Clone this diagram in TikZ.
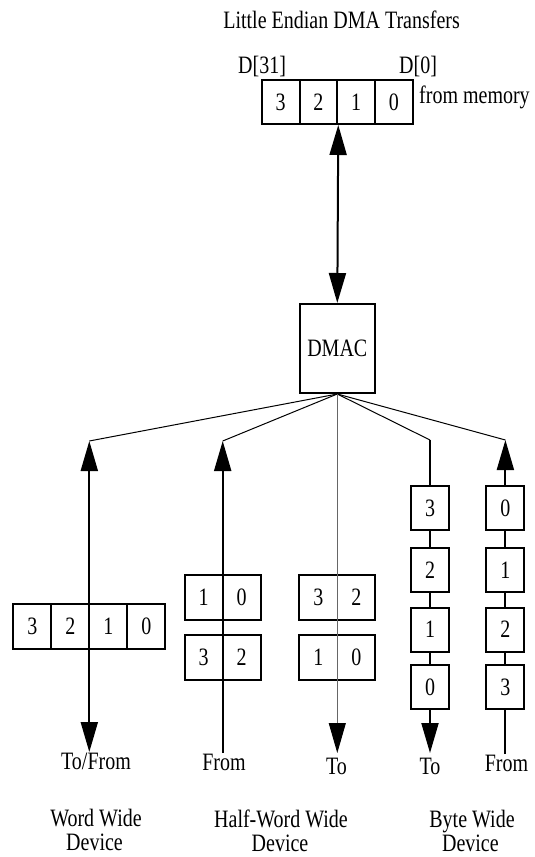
\documentclass[tikz,border=0pt]{standalone}
\usepackage{fontspec}
\usepackage{graphicx}
\setmainfont{Liberation Serif}
\usetikzlibrary{arrows.meta}
\newcommand{\vstr}[1]{\scalebox{1}[1.25]{#1}}
\begin{document}
\begin{tikzpicture}[x=1pt,y=-1pt,
  >={Triangle[length=30pt,width=17pt]},
  txt/.style={font=\fontsize{20}{24}\selectfont, inner sep=0pt},
  lbl/.style={txt, anchor=base},
  cell/.style={txt, draw, line width=2pt, minimum width=38pt, minimum height=44pt, fill=white},
  hbox/.style={draw, line width=2pt, minimum width=76pt, minimum height=45pt, inner sep=0pt, fill=white},
  wire/.style={line width=2pt},
  fan/.style={line width=1pt},
  grayline/.style={line width=1pt, draw=black!60},
  graytip/.style={-{Triangle[length=30pt,width=17pt,color=black]}}
]
\useasboundingbox (0,0) rectangle (535,857);

% title and memory word
\node[lbl, anchor=base east] (title) at (460,28) {\vstr{Little Endian DMA Transfers}};
\node[lbl, anchor=base west] (d31) at (238,73) {\vstr{D[31]}};
\node[lbl, anchor=base west] (d0) at (399,73) {\vstr{D[0]}};
\node[cell, minimum width=37.75pt] (m3) at (280.7,102) {\vstr{3}};
\node[cell, minimum width=37.75pt] (m2) at (318.4,102) {\vstr{2}};
\node[cell, minimum width=37.75pt] (m1) at (356.2,102) {\vstr{1}};
\node[cell, minimum width=37.75pt] (m0) at (393.9,102) {\vstr{0}};
\node[lbl, anchor=base west] (frommem) at (419,103.5) {\vstr{from memory}};

% DMAC
\node[txt, draw, line width=2pt, minimum width=75pt, minimum height=89pt] (dmac) at (337.3,348.5) {\vstr{DMAC}};
\draw[wire,<->] (m2.south east) -- (dmac.north);

% fan
\coordinate (f1) at (89.3,441);
\coordinate (f2) at (222.7,441);
\coordinate (f4) at (430,440);
\coordinate (f5) at (505.4,440);
\draw[fan] (dmac.south) -- (f1);
\draw[fan] (dmac.south) -- (f2);
\draw[fan] (dmac.south) -- (f4);
\draw[fan] (dmac.south) -- (f5);

% word wide device
\node[cell, minimum height=45pt] (w3) at (32.3,626) {\vstr{3}};
\node[cell, minimum height=45pt] (w2) at (70.3,626) {\vstr{2}};
\node[cell, minimum height=45pt] (w1) at (108.3,626) {\vstr{1}};
\node[cell, minimum height=45pt] (w0) at (146.3,626) {\vstr{0}};
\coordinate (t1) at (89.3,752);
\draw[wire,<->] (f1) -- (t1);

% half-word, from
\node[cell, minimum height=45pt] (ha1) at (203.7,597.3) {\vstr{1}};
\node[cell, minimum height=45pt] (ha0) at (241.7,597.3) {\vstr{0}};
\node[cell, minimum height=45pt] (hb3) at (203.7,657.3) {\vstr{3}};
\node[cell, minimum height=45pt] (hb2) at (241.7,657.3) {\vstr{2}};
\coordinate (s2) at (222.7,753);
\draw[wire,->] (s2) -- (f2);

% half-word, to
\node[hbox] (hc) at (337.3,597.3) {};
\node[txt] (hc3) at (318.3,597.3) {\vstr{3}};
\node[txt] (hc2) at (356.3,597.3) {\vstr{2}};
\node[hbox] (hd) at (337.3,657.3) {};
\node[txt] (hd1) at (318.3,657.3) {\vstr{1}};
\node[txt] (hd0) at (356.3,657.3) {\vstr{0}};
\coordinate (t3) at (337.3,753);
\draw[grayline,graytip] (dmac.south) -- (t3);

% byte, to
\node[cell] (b4a) at (430,508) {\vstr{3}};
\node[cell] (b4b) at (430,570) {\vstr{2}};
\node[cell] (b4c) at (430,629.5) {\vstr{1}};
\node[cell] (b4d) at (430,687) {\vstr{0}};
\coordinate (t4) at (430,753);
\draw[wire] (f4) -- (b4a);
\draw[wire] (b4a) -- (b4b);
\draw[wire] (b4b) -- (b4c);
\draw[wire] (b4c) -- (b4d);
\draw[wire,->] (b4d) -- (t4);

% byte, from
\node[cell] (b5a) at (505.4,508) {\vstr{0}};
\node[cell] (b5b) at (505.4,570) {\vstr{1}};
\node[cell] (b5c) at (505.4,629.5) {\vstr{2}};
\node[cell] (b5d) at (505.4,687) {\vstr{3}};
\coordinate (s5) at (505.4,754);
\draw[wire,->] (b5a) -- (f5);
\draw[wire] (b5a) -- (b5b);
\draw[wire] (b5b) -- (b5c);
\draw[wire] (b5c) -- (b5d);
\draw[wire] (s5) -- (b5d);

% direction labels
\node[lbl] (l1) at (96,769) {\vstr{To/From}};
\node[lbl] (l2) at (224,770.5) {\vstr{From}};
\node[lbl] (l3) at (336.5,774) {\vstr{To}};
\node[lbl] (l4) at (430,774) {\vstr{To}};
\node[lbl] (l5) at (506.5,771.5) {\vstr{From}};

% device labels
\node[lbl] (wd1) at (96,826) {\vstr{Word Wide}};
\node[lbl] (wd2) at (94.5,850.5) {\vstr{Device}};
\node[lbl] (hd1l) at (281,827) {\vstr{Half-Word Wide}};
\node[lbl] (hd2l) at (280,851.5) {\vstr{Device}};
\node[lbl] (bd1) at (472,827.5) {\vstr{Byte Wide}};
\node[lbl] (bd2) at (470.4,851.5) {\vstr{Device}};
\end{tikzpicture}
\end{document}
